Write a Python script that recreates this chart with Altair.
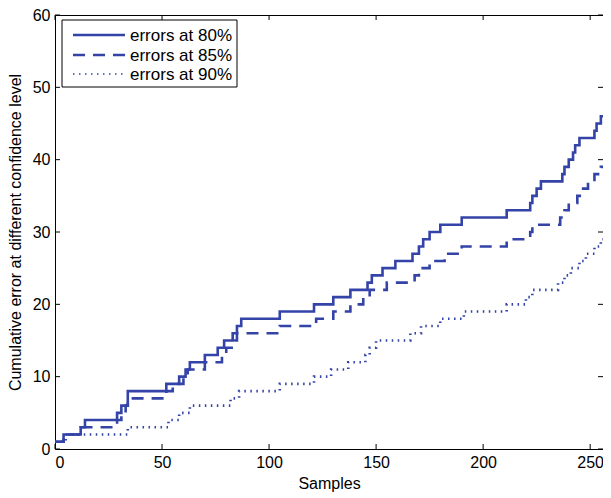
import altair as alt
import pandas as pd

# ---- data (step change points) ----
series_names = ["errors at 80%", "errors at 85%", "errors at 90%"]

samples_80 = [0, 4, 12, 14, 29, 31, 34, 52, 58, 61, 63, 70, 76, 79, 83, 85, 87, 105, 121, 130,
              138, 146, 148, 153, 159, 167, 170, 172, 175, 180, 190, 211, 222, 223, 225, 227,
              237, 238, 240, 242, 243, 245, 252, 253, 255, 256]
errors_80 = [1, 2, 3, 4, 5, 6, 8, 9, 10, 11, 12, 13, 14, 15, 16, 17, 18, 19, 20, 21,
             22, 23, 24, 25, 26, 27, 28, 29, 30, 31, 32, 33, 34, 35, 36, 37,
             38, 39, 40, 41, 42, 43, 44, 45, 46, 46]

samples_85 = [0, 4, 12, 29, 31, 33, 34, 52, 55, 60, 62, 70, 78, 80, 84, 85, 105, 122, 130, 138,
              144, 147, 155, 168, 170, 175, 182, 190, 211, 222, 223, 236, 238, 240, 244, 246,
              249, 252, 255, 256]
errors_85 = [1, 2, 3, 4, 5, 6, 7, 8, 9, 10, 11, 12, 13, 14, 15, 16, 17, 18, 19, 20,
             21, 22, 23, 24, 25, 26, 27, 28, 29, 30, 31, 32, 33, 34, 35, 36,
             37, 38, 39, 39]

samples_90 = [0, 5, 34, 53, 58, 63, 82, 86, 105, 121, 129, 137, 145, 147, 150, 166, 171, 180,
              191, 211, 220, 223, 235, 238, 241, 245, 248, 252, 255, 256]
errors_90 = [1, 2, 3, 4, 5, 6, 7, 8, 9, 10, 11, 12, 13, 14, 15, 16, 17, 18,
             19, 20, 21, 22, 23, 24, 25, 26, 27, 28, 29, 29]

x_ticks = [0, 50, 100, 150, 200, 250]
y_ticks = [0, 10, 20, 30, 40, 50, 60]

BLUE = "#3343a8"
FONT = "Liberation Sans"
W, H = 548, 434

frames = []
for name, xs, ys in zip(series_names, [samples_80, samples_85, samples_90],
                        [errors_80, errors_85, errors_90]):
    frames.append(pd.DataFrame({"sample": xs, "errors": ys, "series": name}))
data = pd.concat(frames, ignore_index=True)

dash_range = [[1, 0], [12, 8], [1.5, 4.5]]
width_range = [2.6, 2.6, 1.6]

x_scale = alt.Scale(domain=[0, 256], nice=False, zero=False)
y_scale = alt.Scale(domain=[0, 60], nice=False)
x_axis = alt.Axis(values=x_ticks, title="Samples", titlePadding=5)
y_axis = alt.Axis(values=y_ticks, title="Cumulative error at different confidence level",
                  titlePadding=9)

lines = alt.Chart(data).mark_line(interpolate="step-after", color=BLUE).encode(
    x=alt.X("sample:Q", scale=x_scale, axis=x_axis),
    y=alt.Y("errors:Q", scale=y_scale, axis=y_axis),
    strokeDash=alt.StrokeDash("series:N", scale=alt.Scale(domain=series_names, range=dash_range),
                              legend=None),
    strokeWidth=alt.StrokeWidth("series:N", scale=alt.Scale(domain=series_names, range=width_range),
                                legend=None),
    order=alt.Order("sample:Q"),
)

xt = pd.DataFrame({"sample": x_ticks})
yt = pd.DataFrame({"errors": y_ticks})
tick_style = dict(color="black", strokeWidth=1)
ticks_bottom = alt.Chart(xt).mark_rule(**tick_style).encode(
    x=alt.X("sample:Q", scale=x_scale, axis=x_axis), y=alt.value(H), y2=alt.value(H - 5))
ticks_top = alt.Chart(xt).mark_rule(**tick_style).encode(
    x=alt.X("sample:Q", scale=x_scale, axis=x_axis), y=alt.value(0), y2=alt.value(5))
ticks_left = alt.Chart(yt).mark_rule(**tick_style).encode(
    y=alt.Y("errors:Q", scale=y_scale, axis=y_axis), x=alt.value(0), x2=alt.value(5))
ticks_right = alt.Chart(yt).mark_rule(**tick_style).encode(
    y=alt.Y("errors:Q", scale=y_scale, axis=y_axis), x=alt.value(W), x2=alt.value(W - 5))

# ---- legend box (drawn inside the plot, top-left) ----
leg_df = pd.DataFrame({"label": ["legend"]})
legend_layers = [
    alt.Chart(leg_df).mark_rect(fill="white", stroke="black", strokeWidth=1).encode(
        x=alt.value(7), x2=alt.value(182), y=alt.value(5), y2=alt.value(72))
]
row_y = [20, 40, 59]
for i, name in enumerate(series_names):
    row = pd.DataFrame({"label": [name]})
    legend_layers.append(
        alt.Chart(row).mark_rule(color=BLUE, strokeWidth=width_range[i],
                                 strokeDash=dash_range[i]).encode(
            x=alt.value(18), x2=alt.value(70), y=alt.value(row_y[i]))
    )
    legend_layers.append(
        alt.Chart(row).mark_text(align="left", baseline="middle", font=FONT, fontSize=17,
                                 color="black").encode(
            x=alt.value(75), y=alt.value(row_y[i] + 1), text="label:N")
    )

chart = alt.layer(
    lines, ticks_bottom, ticks_top, ticks_left, ticks_right, *legend_layers
).properties(
    width=W, height=H,
    padding={"left": 47, "top": 7, "right": 0, "bottom": 47},
    autosize=alt.AutoSizeParams(type="none"),
    background="white",
).configure_view(
    stroke="black", strokeWidth=1
).configure_axis(
    domain=False, ticks=False, grid=False,
    labelFont=FONT, labelFontSize=16, labelColor="black", labelPadding=5,
    titleFont=FONT, titleFontSize=16, titleColor="black", titleFontWeight="normal",
)

chart.save("out.html", embed_options={"renderer": "svg", "actions": False})
